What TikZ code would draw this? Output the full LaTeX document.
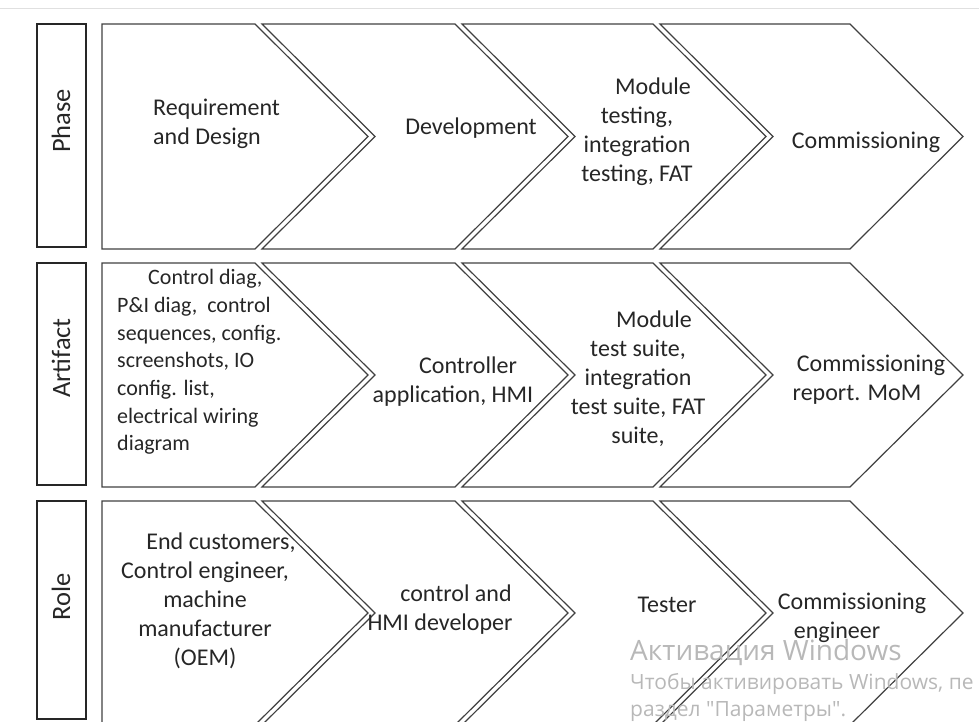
\documentclass[tikz,border=0pt]{standalone}
\usepackage{fontspec}
\setmainfont{Carlito}
\newfontfamily\wmfont{Open Sans}
\begin{document}
\begin{tikzpicture}[
    x=1pt, y=-1pt,
    chev/.style={draw=black!75, line width=1.2pt, line join=miter},
    labelbox/.style={draw=black!85, line width=1.4pt},
    rowlabel/.style={rotate=90, font=\fontsize{26.5}{30}\selectfont, text=black!85},
    cell/.style={align=center, font=\fontsize{24}{29}\selectfont, text=black!85, inner sep=0pt},
    wmark/.style={text=black!28, anchor=west, inner sep=0pt}
]
\useasboundingbox (0,0) rectangle (979,722);
\clip (0,0) rectangle (979,722);

% faint rule at the top of the screenshot
\draw[black!12, line width=1pt] (0,9) -- (979,9);

% === ROW LABELS ===
\draw[labelbox] (37,24) rectangle (86,247);
\node[rowlabel] (phase) at (61,121) {Phase};
\draw[labelbox] (37,263) rectangle (86,485);
\node[rowlabel] (artifact) at (61,358) {Artifact};
\draw[labelbox] (37,501) rectangle (86,719);
\node[rowlabel] (role) at (61,597) {Role};

% === CHEVRONS (one strip of four per row) ===
\foreach \ya/\yb in {24/249, 263/487, 501/725} {
    \pgfmathsetmacro{\ym}{(\ya+\yb)/2}
    % first one has a flat back
    \draw[chev] (102,\ya) -- (255,\ya) -- (368,\ym) -- (255,\yb) -- (102,\yb) -- cycle;
    % the others are notched
    \foreach \l/\r in {262/455, 462/653, 660/850} {
        \draw[chev] (\l,\ya) -- (\r,\ya) -- (\r+113,\ym) -- (\r,\yb)
            -- (\l,\yb) -- (\l+113,\ym) -- cycle;
    }
}

% === PHASE ===
\node[cell, anchor=west, align=left] (reqdesign) at (153,124) {Requirement\\and Design};
\node[cell] (dev) at (471,128) {Development};
\node[cell] (modtest) at (637,132) {\hspace*{32pt}Module\\testing,\\integration\\testing, FAT};
\node[cell] (commiss) at (866,142) {Commissioning};

% === ARTIFACT ===
\node[cell, anchor=west, align=left, font=\fontsize{22}{27.7}\selectfont] (specs) at (117,362)
    {\hspace*{31pt}Control diag,\\P\&I diag,\ \ control\\sequences, config.\\screenshots, IO\\config. list,\\electrical wiring\\diagram};
\node[cell] (ctrlapp) at (453,382) {\hspace*{30pt}Controller\\application, HMI};
\node[cell] (suites) at (638,379) {\hspace*{32pt}Module\\test suite,\\integration\\test suite, FAT\\suite,};
\node[cell] (report) at (857,380) {\hspace*{28pt}Commissioning\\report. MoM};

% === ROLE ===
\node[cell] (stake) at (205,601) {\hspace*{32pt}End customers,\\Control engineer,\\machine\\manufacturer\\(OEM)};
\node[cell] (devrole) at (440,610) {\hspace*{32pt}control and\\HMI developer};
\node[cell] (tester) at (667,605) {Tester};
\node[cell] (commeng) at (837,618) {\hspace*{30pt}Commissioning\\engineer};

% activation watermark over the corner
\node[wmark, font=\wmfont\fontsize{28}{32}\selectfont] (wm1) at (630,652) {Активация Windows};
\node[wmark, font=\wmfont\fontsize{21}{24}\selectfont] (wm2) at (630,684) {Чтобы активировать Windows, пе};
\node[wmark, font=\wmfont\fontsize{21}{24}\selectfont] (wm3) at (630,712) {раздел "Параметры".};

\end{tikzpicture}
\end{document}
